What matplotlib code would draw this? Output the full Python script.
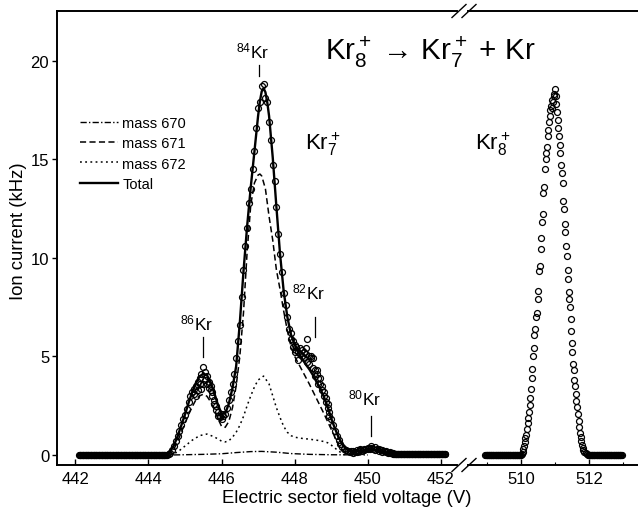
import numpy as np
import matplotlib
matplotlib.use("Agg")
import matplotlib.pyplot as plt
from matplotlib.lines import Line2D

plt.rcParams['font.family'] = ['Liberation Sans', 'DejaVu Sans']
plt.rcParams['mathtext.fontset'] = 'custom'
plt.rcParams['mathtext.rm'] = 'Liberation Sans'
plt.rcParams['mathtext.it'] = 'Liberation Sans:italic'
plt.rcParams['mathtext.bf'] = 'Liberation Sans:bold'

# ---- Kr7+ fragment scan (open circles) ----
# flat baseline stretches, recorded densely
kr7_base_left_v = np.arange(442.10, 444.52, 0.02)
kr7_base_left_level = 0.0
kr7_base_right_v = np.arange(450.70, 452.12, 0.02)
kr7_base_right_level = 0.05

# peak region, start 444.55 V, step 0.05 V
kr7_scan_start = 444.55
kr7_scan_step = 0.05
kr7_counts = (
    [0.05, 0.1, 0.25, 0.45, 0.7, 0.95, 1.2, 1.5, 1.8]
    + [2.05, 2.35, 2.7, 3.0, 3.2, 3.35, 3.5, 3.7, 3.9, 4.1,
       4.45, 3.8, 3.6, 3.4, 3.3, 3.2, 2.8, 2.5, 2.2, 2.0]
    + [1.8, 2.0, 2.1, 2.4, 2.8, 3.2, 3.6, 4.1, 4.9, 5.8,
       6.6, 8.0, 9.4, 10.6, 11.5, 12.8, 13.5, 14.5, 15.4, 16.6]
    + [17.6, 17.9, 18.7, 18.8, 18.1, 17.9, 16.9, 16.0, 14.7, 13.9,
       12.6, 11.2, 10.2, 9.3, 8.2, 7.6, 7.0, 6.4, 6.2, 5.8]
    + [5.6, 5.3, 5.2, 5.1, 5.0, 5.2, 5.1, 5.9, 5.0, 4.9,
       4.4, 4.3, 4.1, 3.9, 3.6, 3.3, 3.0, 2.7, 2.4, 2.0]
    + [1.8, 1.5, 1.2, 0.95, 0.75, 0.55, 0.4, 0.3, 0.25, 0.2,
       0.15, 0.2, 0.2, 0.15, 0.25, 0.2, 0.3, 0.2, 0.25, 0.3]
    + [0.35, 0.3, 0.45, 0.3, 0.25, 0.3, 0.2, 0.25, 0.15, 0.2,
       0.15, 0.1, 0.1, 0.08]
)

# second pass of the scan around the side peaks
kr7_extra_v = [445.25, 445.3, 445.35, 445.4, 445.45, 445.5, 445.55, 445.6, 445.65, 445.7,
               445.75, 445.8, 445.85, 445.9, 445.95, 446.0,
               447.9, 447.95, 448.0, 448.05, 448.1, 448.15, 448.2, 448.25, 448.3, 448.35,
               448.4, 448.45, 448.5, 448.55, 448.6, 448.65, 448.7, 448.75, 448.8, 448.85,
               448.9, 448.95,
               449.6, 449.7, 449.8, 449.9, 450.0, 450.1, 450.2, 450.3, 450.4, 450.5,
               450.6, 450.7]
kr7_extra_i = [3.1, 3.0, 3.3, 3.6, 3.35, 3.6, 4.2, 4.0, 3.7, 3.5,
               3.0, 2.6, 2.3, 2.0, 1.9, 2.1,
               5.9, 5.5, 5.2, 5.5, 4.8, 5.4, 5.3, 4.9, 5.4, 4.7,
               4.6, 5.0, 4.9, 4.0, 4.3, 3.6, 3.9, 3.5, 3.2, 2.9,
               2.6, 2.2,
               0.1, 0.15, 0.25, 0.3, 0.3, 0.35, 0.4, 0.3, 0.25, 0.2,
               0.15, 0.1]

# ---- fitted curves ----
total_v = [442.1, 444.0, 444.4, 444.5, 444.6, 444.7, 444.8, 444.9, 445.0, 445.1,
           445.2, 445.3, 445.4, 445.5, 445.6, 445.7, 445.8, 445.9, 446.0, 446.1,
           446.2, 446.3, 446.4, 446.5, 446.6, 446.7, 446.8, 446.9, 447.0, 447.05,
           447.1, 447.15, 447.2, 447.25, 447.3, 447.4, 447.5, 447.6, 447.7, 447.8,
           447.9, 448.0, 448.1, 448.2, 448.3, 448.4, 448.5, 448.6, 448.7, 448.8,
           448.9, 449.0, 449.1, 449.2, 449.3, 449.4, 449.5, 449.6, 449.8, 450.0,
           450.2, 450.4, 450.6, 450.8, 451.0]
total_i = [0.0, 0.0, 0.02, 0.06, 0.2, 0.5, 0.95, 1.5, 2.05, 2.65,
           3.2, 3.65, 3.98, 4.12, 4.05, 3.7, 3.15, 2.55, 2.1, 2.1,
           2.6, 3.4, 4.5, 6.7, 9.3, 11.6, 13.6, 15.4, 17.2, 17.95,
           18.45, 18.6, 18.4, 17.9, 17.2, 15.1, 12.6, 10.2, 8.3, 7.0,
           6.1, 5.6, 5.2, 4.9, 4.6, 4.35, 4.05, 3.7, 3.35, 2.95,
           2.45, 1.85, 1.35, 0.9, 0.55, 0.32, 0.22, 0.2, 0.2, 0.25,
           0.25, 0.15, 0.08, 0.04, 0.02]

m670_v = [444.7, 445.5, 446.0, 446.4, 446.8, 447.1, 447.5, 447.9, 448.4, 449.0, 450.0]
m670_i = [0.0, 0.03, 0.06, 0.12, 0.17, 0.18, 0.14, 0.07, 0.03, 0.01, 0.0]

m671_v = [444.5, 444.6, 444.7, 444.8, 444.9, 445.0, 445.1, 445.2, 445.3, 445.4,
          445.5, 445.6, 445.7, 445.8, 445.9, 446.0, 446.1, 446.2, 446.3, 446.4,
          446.5, 446.6, 446.7, 446.8, 446.9, 447.0, 447.05, 447.1, 447.2, 447.3,
          447.4, 447.5, 447.6, 447.7, 447.8, 447.9, 448.0, 448.2, 448.4, 448.6,
          448.8, 449.0, 449.2, 449.4, 449.6]
m671_i = [0.0, 0.1, 0.3, 0.7, 1.15, 1.6, 2.05, 2.45, 2.8, 3.0,
          3.08, 2.98, 2.7, 2.3, 1.85, 1.45, 1.4, 1.7, 2.4, 3.5,
          5.0, 7.2, 10.3, 12.7, 13.8, 14.2, 14.25, 14.15, 13.5, 12.1,
          10.9, 9.4, 8.4, 7.3, 6.3, 5.5, 5.0, 4.3, 3.6, 2.85,
          2.1, 1.3, 0.5, 0.08, 0.0]

m672_v = [444.6, 444.8, 445.0, 445.2, 445.4, 445.6, 445.8, 446.0, 446.1, 446.2,
          446.3, 446.4, 446.5, 446.6, 446.7, 446.8, 446.9, 447.0, 447.15, 447.3,
          447.4, 447.5, 447.6, 447.7, 447.8, 447.9, 448.0, 448.2, 448.4, 448.6,
          448.8, 448.9, 449.0, 449.1, 449.2, 449.3, 449.4]
m672_i = [0.0, 0.15, 0.45, 0.75, 0.98, 1.06, 0.92, 0.7, 0.66, 0.72,
          0.9, 1.15, 1.5, 1.95, 2.5, 3.0, 3.45, 3.8, 4.0, 3.6,
          3.0, 2.4, 1.9, 1.45, 1.15, 0.98, 0.9, 0.84, 0.8, 0.75,
          0.68, 0.62, 0.5, 0.35, 0.2, 0.08, 0.0]

# ---- Kr8+ parent peak ----
kr8_base_left_v = np.arange(508.95, 510.0, 0.02)
kr8_base_right_v = np.arange(511.98, 512.98, 0.02)
kr8_baseline = 0.0
kr8_v = [510.02, 510.05, 510.07, 510.09, 510.11, 510.13, 510.15, 510.17, 510.19, 510.21,
         510.23, 510.25, 510.27, 510.29, 510.31, 510.33, 510.35, 510.37, 510.39, 510.41,
         510.44, 510.46, 510.49, 510.51, 510.54, 510.56, 510.58, 510.60, 510.62, 510.64,
         510.66, 510.68, 510.70, 510.72, 510.74, 510.76, 510.78, 510.80, 510.82, 510.84,
         510.86, 510.88, 510.90, 510.92, 510.94, 510.96, 510.98, 511.00, 511.02, 511.04,
         511.06, 511.08, 511.10, 511.12, 511.14, 511.16, 511.18, 511.20, 511.22, 511.24,
         511.26, 511.28, 511.30, 511.33, 511.35, 511.37, 511.39, 511.41, 511.42, 511.44,
         511.46, 511.48, 511.49, 511.51, 511.53, 511.55, 511.57, 511.59, 511.61, 511.63,
         511.65, 511.67, 511.69, 511.71, 511.73, 511.75, 511.77, 511.79, 511.81, 511.83,
         511.86, 511.90, 511.95]
kr8_i = [0.05, 0.15, 0.3, 0.45, 0.65, 0.85, 1.0, 1.3, 1.6, 1.85,
         2.2, 2.55, 2.9, 3.35, 3.9, 4.35, 5.0, 5.4, 6.1, 6.4,
         7.0, 7.2, 7.9, 8.3, 9.35, 9.6, 10.45, 11.0, 11.8, 12.2,
         13.3, 13.6, 14.5, 15.0, 15.3, 15.6, 16.2, 16.5, 16.9, 17.2,
         17.5, 17.7, 17.6, 18.0, 17.9, 18.2, 18.3, 18.55, 18.2, 17.8,
         17.4, 17.0, 16.6, 16.2, 15.7, 15.3, 14.7, 14.3, 13.8, 12.9,
         12.5, 11.7, 11.3, 10.6, 10.1, 9.4, 8.9, 8.25, 7.9, 7.5,
         6.9, 6.3, 5.7, 5.2, 4.6, 4.3, 3.8, 3.5, 3.1, 2.75,
         2.45, 2.1, 1.7, 1.4, 1.1, 0.9, 0.7, 0.5, 0.35, 0.25,
         0.15, 0.08, 0.03]

# isotope labels
iso_labels = ['$\\mathregular{^{84}Kr}$', '$\\mathregular{^{86}Kr}$',
              '$\\mathregular{^{82}Kr}$', '$\\mathregular{^{80}Kr}$']
iso_v = [447.03, 445.48, 448.55, 450.08]
iso_text_y = [20.15, 6.35, 7.95, 2.55]
iso_tick_lo = [19.2, 4.97, 5.98, 0.98]
iso_tick_hi = [19.8, 5.98, 7.0, 2.0]

# ------------------------------------------------------------------
W, H = 638, 510
fig = plt.figure(figsize=(W / 100, H / 100), dpi=100)

left_px, split_l, split_r = 57, 457, 468
bot_px, top_px = 466, 12
ax1 = fig.add_axes([left_px / W, (H - bot_px) / H, (split_l - left_px) / W, (bot_px - top_px) / H])
ax2 = fig.add_axes([split_r / W, (H - bot_px) / H, 1 - split_r / W + 0.01, (bot_px - top_px) / H])

kr7_v = kr7_scan_start + kr7_scan_step * np.arange(len(kr7_counts))

mk = dict(marker='o', ms=4.3, mfc='none', mec='black', mew=0.9, ls='none')
ax1.plot(kr7_base_left_v, [kr7_base_left_level] * len(kr7_base_left_v), zorder=3, **mk)
ax1.plot(kr7_base_right_v, [kr7_base_right_level] * len(kr7_base_right_v), zorder=3, **mk)
ax1.plot(kr7_v, kr7_counts, zorder=3, **mk)
ax1.plot(kr7_extra_v, kr7_extra_i, zorder=3, **mk)
ax1.plot(m670_v, m670_i, color='black', lw=1.0, dashes=(4.5, 1.6, 1.0, 1.6), label='mass 670', zorder=2)
ax1.plot(m671_v, m671_i, color='black', lw=1.1, dashes=(4.0, 2.2), label='mass 671', zorder=2)
ax1.plot(m672_v, m672_i, color='black', lw=1.1, dashes=(1.2, 2.2), label='mass 672', zorder=2)
ax1.plot(total_v, total_i, color='black', lw=1.7, label='Total', zorder=4)

for lab, v, ty, lo, hi in zip(iso_labels, iso_v, iso_text_y, iso_tick_lo, iso_tick_hi):
    ax1.text(v - 0.17, ty, lab, ha='center', va='baseline', fontsize=12.5)
    ax1.plot([v, v], [lo, hi], color='black', lw=0.9)

ax1.text(448.28, 15.5, '$\\mathregular{Kr_7^+}$', fontsize=16, va='baseline', ha='left')

ax2.plot(kr8_base_left_v, [kr8_baseline] * len(kr8_base_left_v), **mk)
ax2.plot(kr8_base_right_v, [kr8_baseline] * len(kr8_base_right_v), **mk)
ax2.plot(kr8_v, kr8_i, **mk)
ax2.text(508.65, 15.5, '$\\mathregular{Kr_8^+}$', fontsize=16, va='baseline', ha='left')

fig.text(325 / W, (H - 60) / H,
         '$\\mathregular{Kr_8^+}$ \u2192 $\\mathregular{Kr_7^+}$ + Kr',
         fontsize=21.3, va='baseline', ha='left')

ylim = (-0.51, 22.52)
ax1.set_xlim(441.5, 452.44)
ax2.set_xlim(508.44, 513.44 + 0.01 * W / 34)
for ax in (ax1, ax2):
    ax.set_ylim(*ylim)
    ax.spines['right'].set_visible(False)
    for s in ('left', 'bottom', 'top'):
        ax.spines[s].set_linewidth(1.4)
    ax.tick_params(axis='x', direction='in', length=4, width=1.0, labelsize=12, pad=4)
    ax.tick_params(axis='x', which='minor', direction='in', length=2.2, width=0.8)

ax1.set_xticks([442, 444, 446, 448, 450, 452])
ax1.set_yticks([0, 5, 10, 15, 20])
ax1.tick_params(axis='y', direction='out', length=3.6, width=1.0, labelsize=12, pad=2)

ax2.set_xticks([510, 512])
ax2.set_xticks([509, 511, 513], minor=True)
ax2.spines['left'].set_visible(False)
ax2.set_yticks([])

leg = ax1.legend(loc='upper left', bbox_to_anchor=(0.058, 0.768), frameon=False,
                 fontsize=10.5, handlelength=2.6, handletextpad=0.3, labelspacing=0.42,
                 borderpad=0, borderaxespad=0)

fig.text(347 / W, (H - 499) / H, 'Electric sector field voltage (V)',
         ha='center', va='center', fontsize=13.3)
fig.text(19 / W, (H - 231) / H, 'Ion current (kHz)', rotation=90,
         ha='center', va='center', fontsize=13.3)

# axis break marks
for yc in (H - bot_px, H - top_px):
    for x0 in (452, 462):
        fig.add_artist(Line2D([x0 / W, (x0 + 14) / W], [(yc - 6.5) / H, (yc + 6.5) / H],
                              color='black', lw=1.0, transform=fig.transFigure))

fig.savefig('out.png', dpi=100)
